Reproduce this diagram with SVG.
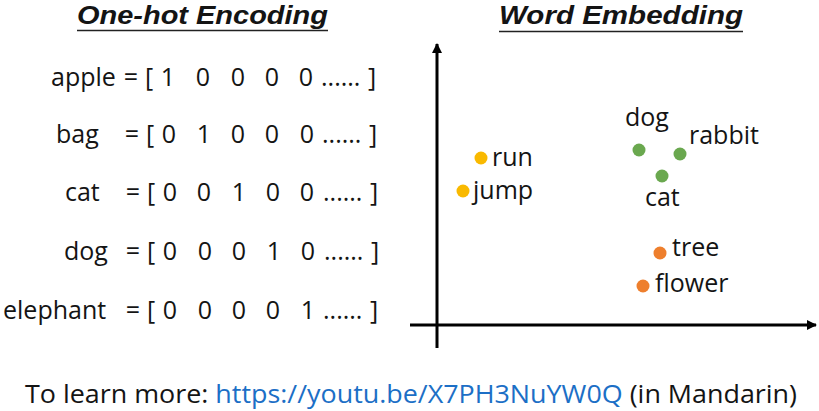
<svg xmlns="http://www.w3.org/2000/svg" width="819" height="411" viewBox="0 0 819 411">
<style>
text{font-family:"Open Sans","Liberation Sans",sans-serif;fill:#141414}
.t{font-family:"Liberation Sans","Open Sans",sans-serif;font-size:26px;font-weight:bold;font-style:italic}
.r{font-size:25px}
.m{font-size:25px;text-anchor:middle}
.l{font-size:25px}
.b{font-size:25px}
.u{stroke:#222;stroke-width:1.6}
.ax{stroke:#000;stroke-width:3;fill:none}
</style>
<defs>
<marker id="ah" markerWidth="10" markerHeight="10" refX="9" refY="5" orient="auto" markerUnits="userSpaceOnUse"><path d="M0,0 L10,5 L0,10 Z" fill="#000"/></marker>
</defs>
<g id="title-onehot">
<text class="t" x="77" y="24" textLength="251" lengthAdjust="spacingAndGlyphs">One-hot Encoding</text>
<line class="u" x1="77" y1="30.5" x2="328" y2="30.5"/>
</g>
<g id="title-embedding">
<text class="t" x="499" y="24" textLength="244" lengthAdjust="spacingAndGlyphs">Word Embedding</text>
<line class="u" x1="499" y1="31.5" x2="743" y2="31.5"/>
</g>
<g id="row-apple">
<text class="r" x="51" y="86">apple</text>
<text class="m" x="131" y="86">=</text><text class="m" x="149" y="86">[</text>
<text class="m" x="168" y="86">1</text><text class="m" x="203" y="86">0</text><text class="m" x="238" y="86">0</text><text class="m" x="272" y="86">0</text><text class="m" x="306" y="86">0</text>
<text class="r" x="321" y="86">......</text><text class="m" x="372" y="86">]</text>
</g>
<g id="row-bag">
<text class="r" x="56" y="143">bag</text>
<text class="m" x="132" y="143">=</text><text class="m" x="150" y="143">[</text>
<text class="m" x="169" y="143">0</text><text class="m" x="204" y="143">1</text><text class="m" x="238" y="143">0</text><text class="m" x="272" y="143">0</text><text class="m" x="307" y="143">0</text>
<text class="r" x="322" y="143">......</text><text class="m" x="373" y="143">]</text>
</g>
<g id="row-cat">
<text class="r" x="65" y="201">cat</text>
<text class="m" x="133" y="201">=</text><text class="m" x="151" y="201">[</text>
<text class="m" x="170" y="201">0</text><text class="m" x="204" y="201">0</text><text class="m" x="239" y="201">1</text><text class="m" x="273" y="201">0</text><text class="m" x="307" y="201">0</text>
<text class="r" x="323" y="201">......</text><text class="m" x="374" y="201">]</text>
</g>
<g id="row-dog">
<text class="r" x="64" y="260">dog</text>
<text class="m" x="133" y="260">=</text><text class="m" x="151" y="260">[</text>
<text class="m" x="170" y="260">0</text><text class="m" x="205" y="260">0</text><text class="m" x="239" y="260">0</text><text class="m" x="274" y="260">1</text><text class="m" x="308" y="260">0</text>
<text class="r" x="324" y="260">......</text><text class="m" x="375" y="260">]</text>
</g>
<g id="row-elephant">
<text class="r" x="3" y="319">elephant</text>
<text class="m" x="133" y="319">=</text><text class="m" x="151" y="319">[</text>
<text class="m" x="170" y="319">0</text><text class="m" x="205" y="319">0</text><text class="m" x="239" y="319">0</text><text class="m" x="273" y="319">0</text><text class="m" x="308" y="319">1</text>
<text class="r" x="323" y="319">......</text><text class="m" x="374" y="319">]</text>
</g>
<g id="axes">
<line class="ax" x1="437" y1="348" x2="437" y2="44" marker-end="url(#ah)"/>
<line class="ax" x1="410" y1="325" x2="816" y2="325" marker-end="url(#ah)"/>
</g>
<g id="pt-run"><circle cx="481" cy="158" r="6.5" fill="#F9B900"/><text class="l" x="492" y="166">run</text></g>
<g id="pt-jump"><circle cx="463" cy="191" r="6.5" fill="#F9B900"/><text class="l" x="473" y="199">jump</text></g>
<g id="pt-dog"><circle cx="639" cy="150" r="6.5" fill="#6AA84F"/><text class="l" x="625" y="126">dog</text></g>
<g id="pt-rabbit"><circle cx="680" cy="154" r="6.5" fill="#6AA84F"/><text class="l" x="689" y="144">rabbit</text></g>
<g id="pt-cat"><circle cx="662" cy="176" r="6.5" fill="#6AA84F"/><text class="l" x="645" y="206">cat</text></g>
<g id="pt-tree"><circle cx="660" cy="253" r="6.5" fill="#EE7F2D"/><text class="l" x="672" y="256">tree</text></g>
<g id="pt-flower"><circle cx="643" cy="286" r="6.5" fill="#EE7F2D"/><text class="l" x="655" y="292">flower</text></g>
<g id="footer">
<text class="b" x="25" y="403" textLength="772" lengthAdjust="spacingAndGlyphs">To learn more: <tspan fill="#1C6FC6">https://youtu.be/X7PH3NuYW0Q</tspan> (in Mandarin)</text>
</g>
</svg>
